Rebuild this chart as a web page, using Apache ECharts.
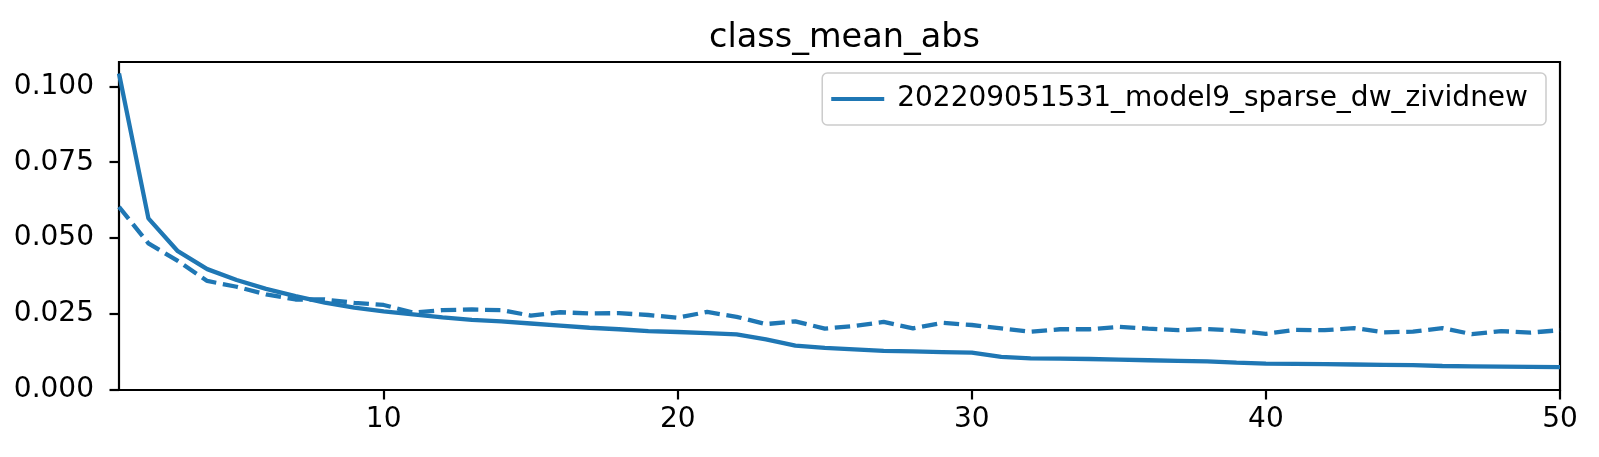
<!DOCTYPE html>
<html>
<head>
<meta charset="utf-8">
<script src="https://cdn.jsdelivr.net/npm/echarts@6/dist/echarts.min.js"></script>
<style>
html,body{margin:0;padding:0;background:#fff;}
#chart{width:1599px;height:457px;}
</style>
</head>
<body>
<div id="chart"></div>
<script>
const epochs = [1,2,3,4,5,6,7,8,9,10,11,12,13,14,15,16,17,18,19,20,21,22,23,24,25,26,27,28,29,30,31,32,33,34,35,36,37,38,39,40,41,42,43,44,45,46,47,48,49,50];
const trainValues = [0.1042,0.0565,0.0457,0.0398,0.0362,0.0333,0.0309,0.0288,0.0271,0.0259,0.0249,0.0239,0.0231,0.0226,0.0219,0.0212,0.0205,0.0200,0.0194,0.0191,0.0187,0.0183,0.0167,0.0146,0.0139,0.0134,0.0129,0.0127,0.0125,0.0123,0.0109,0.0104,0.0103,0.0102,0.0100,0.0098,0.0096,0.0094,0.0090,0.0087,0.0086,0.0085,0.0084,0.0083,0.0082,0.0079,0.0078,0.0077,0.0076,0.0075];
const valValues = [0.0603,0.0483,0.0425,0.0359,0.0340,0.0315,0.0298,0.0298,0.0287,0.0280,0.0255,0.0263,0.0265,0.0263,0.0245,0.0256,0.0252,0.0253,0.0247,0.0238,0.0257,0.0241,0.0217,0.0226,0.0202,0.0211,0.0224,0.0203,0.0221,0.0214,0.0203,0.0192,0.0200,0.0200,0.0208,0.0202,0.0197,0.0201,0.0195,0.0185,0.0198,0.0197,0.0204,0.0190,0.0192,0.0204,0.0184,0.0194,0.0189,0.0197];
const xTicks = [10,20,30,40,50];
const yTicks = [0,0.025,0.05,0.075,0.1];
const titleText = 'class_mean_abs';
const seriesName = '202209051531_model9_sparse_dw_zividnew';

const FONT = 'DejaVu Sans';
const BLUE = '#1f77b4';
const chart = echarts.init(document.getElementById('chart'), null, {renderer:'canvas'});
chart.setOption({
  animation:false,
  backgroundColor:'#ffffff',
  title:{
    text:titleText, left:704, top:16,
    textStyle:{fontFamily:FONT,fontSize:33.5,fontWeight:'normal',color:'#000',lineHeight:34}
  },
  legend:{
    data:[seriesName], right:53, top:73,
    icon:'rect', itemWidth:53, itemHeight:4.2, itemGap:0,
    padding:[10,18,10,9],
    backgroundColor:'rgba(255,255,255,0.8)', borderColor:'#cccccc', borderWidth:1.5, borderRadius:5,
    textStyle:{fontFamily:FONT,fontSize:28,color:'#000',lineHeight:32,padding:[0,0,0,8]}
  },
  grid:{left:119,right:39,top:62,bottom:67,show:true,borderColor:'#000',borderWidth:2.2,backgroundColor:'transparent'},
  xAxis:{
    type:'value', min:1, max:50,
    axisLine:{show:false}, splitLine:{show:false},
    axisTick:{show:true,length:9.5,lineStyle:{color:'#000',width:2.2},customValues:xTicks},
    axisLabel:{fontFamily:FONT,fontSize:28,color:'#000',margin:16,customValues:xTicks,formatter:v=>String(v)}
  },
  yAxis:{
    type:'value', min:0, max:0.108,
    axisLine:{show:false}, splitLine:{show:false},
    axisTick:{show:true,length:9.5,lineStyle:{color:'#000',width:2.2},customValues:yTicks},
    axisLabel:{fontFamily:FONT,fontSize:28,color:'#000',margin:25,customValues:yTicks,formatter:v=>v.toFixed(3)}
  },
  series:[
    {name:seriesName,type:'line',data:epochs.map((e,i)=>[e,trainValues[i]]),symbol:'none',
     lineStyle:{color:BLUE,width:4.3},itemStyle:{color:BLUE},clip:true},
    {name:'val',type:'line',data:epochs.map((e,i)=>[e,valValues[i]]),symbol:'none',
     lineStyle:{color:BLUE,width:4.3,type:[15.4,6.7]},itemStyle:{color:BLUE},clip:true}
  ]
});
</script>
</body>
</html>
